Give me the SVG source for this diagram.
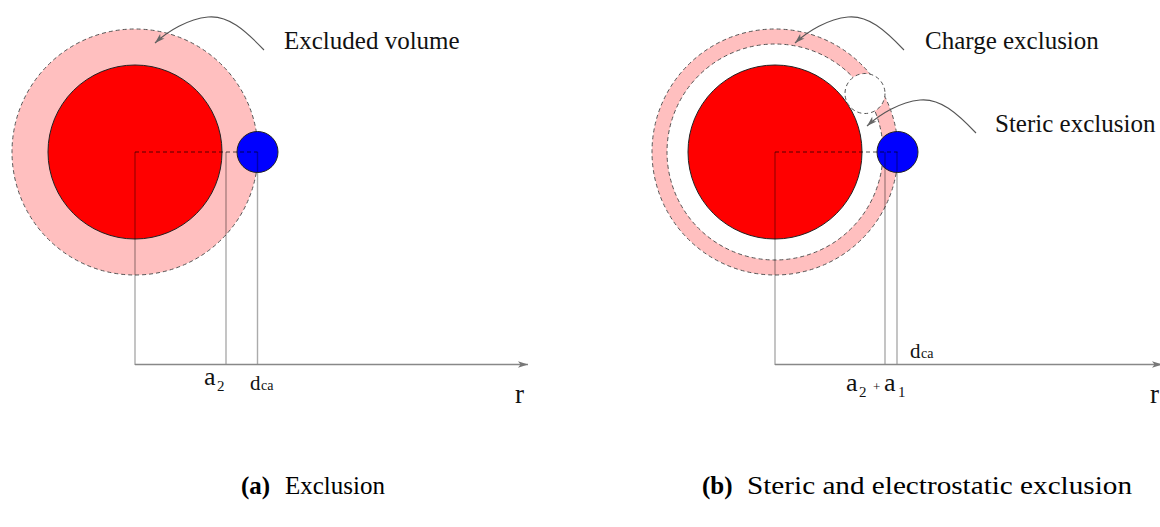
<svg xmlns="http://www.w3.org/2000/svg" width="1160" height="527" viewBox="0 0 1160 527">
<style>
  .lbl { font-family: "Liberation Serif", "Times New Roman", serif; fill: #111; }
  .cap { font-family: "Liberation Serif", "Times New Roman", serif; fill: #000; font-size: 25px; }
  .bold { font-weight: bold; }
  .ring { stroke: #555; stroke-width: 1; stroke-dasharray: 4 3; }
  .core { fill: #ff0000; stroke: #222; stroke-width: 1; }
  .ion { fill: #0000ff; stroke: #222; stroke-width: 1; }
  .guide { stroke: #000; stroke-opacity: 0.33; stroke-width: 1.4; fill: none; }
  .dash { stroke: #000; stroke-opacity: 0.45; stroke-width: 1.3; stroke-dasharray: 4 3; fill: none; }
  .axis { stroke: #888; stroke-width: 1.3; fill: none; }
  .pointer { stroke: #555; stroke-width: 1.1; fill: none; }
</style>
<defs>
  <marker id="ah" viewBox="0 0 10 8" refX="10" refY="4" markerWidth="10" markerHeight="8" markerUnits="userSpaceOnUse" orient="auto">
    <path d="M0,0.8 L10,4 L0,7.2 L2.5,4 z" fill="#777"/>
  </marker>
  <marker id="ahp" viewBox="0 0 10 8" refX="10" refY="4" markerWidth="11" markerHeight="8" markerUnits="userSpaceOnUse" orient="auto">
    <path d="M0,0.8 L10,4 L0,7.2 L2.5,4 z" fill="#666"/>
  </marker>
</defs>
<rect width="1160" height="527" fill="#ffffff"/>

<!-- Panel (a) -->
<g id="a-excluded-volume">
  <circle cx="135" cy="152" r="123" fill="#ffbfbf" class="ring"/>
</g>
<g id="a-core">
  <circle cx="135" cy="152" r="87" class="core"/>
</g>
<g id="a-ion">
  <circle cx="257.5" cy="152" r="20.5" class="ion"/>
</g>
<g id="a-connectors">
  <line x1="135" y1="152" x2="257.5" y2="152" class="dash"/>
  <line x1="135" y1="152" x2="135" y2="365" class="guide"/>
  <line x1="226" y1="152" x2="226" y2="365" class="guide"/>
  <line x1="257.5" y1="152" x2="257.5" y2="365" class="guide"/>
  <line x1="135" y1="364.5" x2="528" y2="364.5" class="axis" marker-end="url(#ah)"/>
  <path d="M264,50 C245,30 228,15 208,17 C188,19 168,31 155,43" class="pointer" marker-end="url(#ahp)"/>
</g>
<g id="a-labels">
  <text x="284" y="49" class="lbl" font-size="25">Excluded volume</text>
  <text x="204" y="385" class="lbl" font-size="26">a</text>
  <text x="217" y="391" class="lbl" font-size="15">2</text>
  <text x="250" y="390" class="lbl" font-size="21">d</text>
  <text x="261" y="390" class="lbl" font-size="14">ca</text>
  <text x="515" y="403" class="lbl" font-size="27">r</text>
</g>

<!-- Panel (b) -->
<g id="b-charge-exclusion">
  <circle cx="775" cy="152" r="123" fill="#ffbfbf" class="ring"/>
  <circle cx="775" cy="152" r="108" fill="#ffffff" class="ring"/>
</g>
<g id="b-core">
  <circle cx="775" cy="152" r="87" class="core"/>
</g>
<g id="b-steric-ghost">
  <circle cx="865" cy="93.5" r="20" fill="#ffffff" class="ring"/>
</g>
<g id="b-ion">
  <circle cx="897.5" cy="152" r="20.5" class="ion"/>
</g>
<g id="b-connectors">
  <line x1="775" y1="152" x2="897.5" y2="152" class="dash"/>
  <line x1="775" y1="152" x2="775" y2="365" class="guide"/>
  <line x1="885" y1="152" x2="885" y2="365" class="guide"/>
  <line x1="897" y1="152" x2="897" y2="365" class="guide"/>
  <line x1="775" y1="364.5" x2="1162" y2="364.5" class="axis" marker-end="url(#ah)"/>
  <path d="M904,50 C885,30 868,15 848,17 C828,19 808,31 795,43" class="pointer" marker-end="url(#ahp)"/>
  <path d="M976,133 C957,113 940,98 920,100 C900,102 880,114 867,126" class="pointer" marker-end="url(#ahp)"/>
</g>
<g id="b-labels">
  <text x="925" y="49" class="lbl" font-size="25">Charge exclusion</text>
  <text x="995" y="132" class="lbl" font-size="25">Steric exclusion</text>
  <text x="910" y="358" class="lbl" font-size="21">d</text>
  <text x="921" y="358" class="lbl" font-size="14">ca</text>
  <text x="846" y="391" class="lbl" font-size="26">a</text>
  <text x="859" y="397" class="lbl" font-size="15">2</text>
  <text x="873" y="391" class="lbl" font-size="13">+</text>
  <text x="884" y="391" class="lbl" font-size="26">a</text>
  <text x="898" y="397" class="lbl" font-size="15">1</text>
  <text x="1150" y="403" class="lbl" font-size="27">r</text>
</g>

<!-- Captions -->
<g id="captions">
  <text x="241" y="494" class="cap bold">(a)</text>
  <text x="285" y="494" class="cap">Exclusion</text>
  <text x="702" y="494" class="cap bold">(b)</text>
  <text x="747" y="494" class="cap" textLength="385" lengthAdjust="spacingAndGlyphs">Steric and electrostatic exclusion</text>
</g>
</svg>
